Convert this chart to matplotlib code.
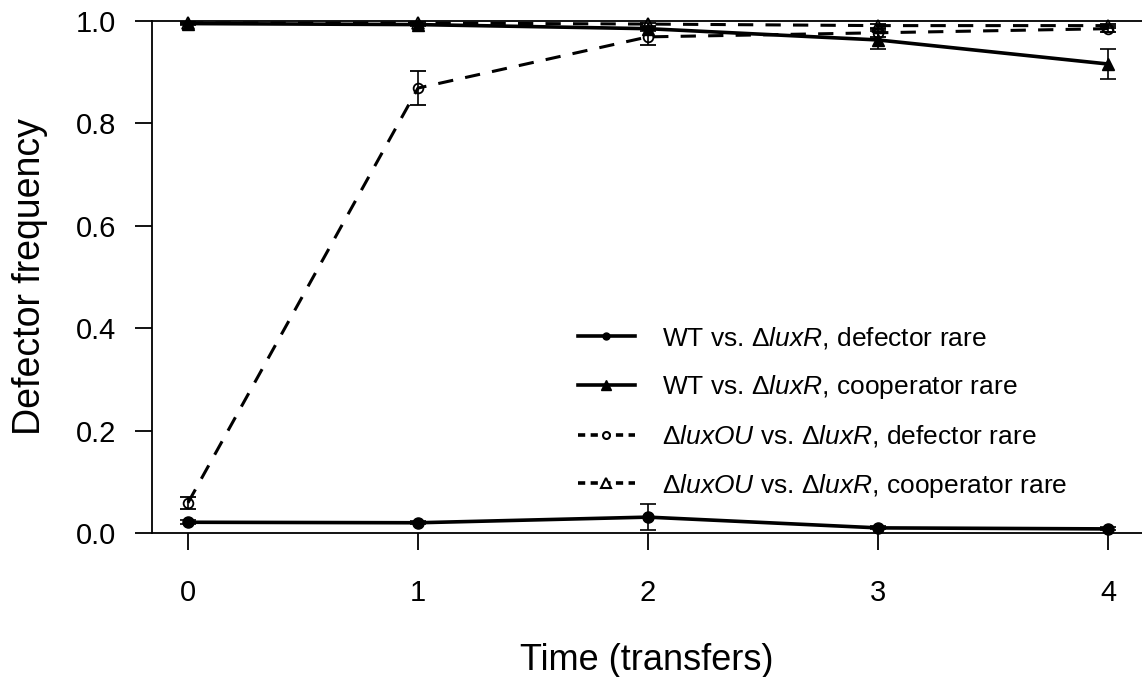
import numpy as np
import matplotlib
matplotlib.use('Agg')
import matplotlib.pyplot as plt
from matplotlib.lines import Line2D

plt.rcParams['font.family'] = ['Liberation Sans', 'DejaVu Sans']
plt.rcParams['mathtext.fontset'] = 'custom'
plt.rcParams['mathtext.rm'] = 'Liberation Sans'
plt.rcParams['mathtext.it'] = 'Liberation Sans:italic'

# transfers
time = [0, 1, 2, 3, 4]

# WT vs. luxR, defector rare
wt_def = [0.021, 0.020, 0.031, 0.010, 0.008]
wt_def_err = [0.004, 0.003, 0.026, 0.003, 0.003]
# WT vs. luxR, cooperator rare
wt_coop = [0.995, 0.993, 0.985, 0.963, 0.916]
wt_coop_err = [0.002, 0.002, 0.004, 0.017, 0.030]
# luxOU vs. luxR, defector rare
ou_def = [0.059, 0.869, 0.969, 0.977, 0.985]
ou_def_err = [0.012, 0.033, 0.015, 0.008, 0.006]
# luxOU vs. luxR, cooperator rare
ou_coop = [0.996, 0.996, 0.994, 0.991, 0.991]
ou_coop_err = [0.002, 0.002, 0.003, 0.004, 0.004]

labels = [r'WT vs. $\Delta\mathit{luxR}$, defector rare',
          r'WT vs. $\Delta\mathit{luxR}$, cooperator rare',
          r'$\Delta\mathit{luxOU}$ vs. $\Delta\mathit{luxR}$, defector rare',
          r'$\Delta\mathit{luxOU}$ vs. $\Delta\mathit{luxR}$, cooperator rare']

fig = plt.figure(figsize=(11.42, 6.77), dpi=100)
ax = fig.add_axes([152/1142, 144/677, 990/1142, 512/677])

dash = (0, (5, 4))
common = dict(color='black', ecolor='black', elinewidth=1.2, capsize=6,
              capthick=1.2, clip_on=False)

ax.errorbar(time, wt_def, yerr=wt_def_err, fmt='-o', lw=2.6, ms=8, **common)
ax.errorbar(time, wt_coop, yerr=wt_coop_err, fmt='-^', lw=2.6, ms=9, **common)
ax.errorbar(time, ou_def, yerr=ou_def_err, fmt='o', ms=7, mfc='none', mew=1.3, **common)
ax.plot(time, ou_def, color='black', lw=2.2, linestyle=dash, clip_on=False)
ax.errorbar(time, ou_coop, yerr=ou_coop_err, fmt='^', ms=8, mfc='none', mew=1.3, **common)
ax.plot(time, ou_coop, color='black', lw=2.2, linestyle=dash, clip_on=False)

ax.set_xlim(-36/230, 4 + 34/230)
ax.set_ylim(0, 1)
ax.set_xticks(time)
ax.set_yticks([0, 0.2, 0.4, 0.6, 0.8, 1.0])
ax.set_yticklabels(['0.0', '0.2', '0.4', '0.6', '0.8', '1.0'])
ax.spines['right'].set_visible(False)
for s in ['left', 'bottom', 'top']:
    ax.spines[s].set_linewidth(1.3)
ax.tick_params(axis='x', length=12, width=1.3, pad=21, labelsize=21)
ax.tick_params(axis='y', length=12, width=1.3, pad=14, labelsize=21)

ax.set_xlabel('Time (transfers)', fontsize=26, labelpad=26)
ax.set_ylabel('Defector frequency', fontsize=27, labelpad=20)

handles = [
    Line2D([], [], color='black', lw=2.6, marker='o', ms=5),
    Line2D([], [], color='black', lw=2.6, marker='^', ms=7),
    Line2D([], [], color='black', lw=2.6, linestyle=(0, (2, 1.5)), marker='o', ms=5, mfc='white', mew=1.5),
    Line2D([], [], color='black', lw=2.6, linestyle=(0, (2, 1.5)), marker='^', ms=7, mfc='white', mew=1.5),
]
ax.legend(handles, labels, loc='upper left', bbox_to_anchor=(578/1142, 1 - 325/677),
          bbox_transform=fig.transFigure, frameon=False, fontsize=19,
          handlelength=2.15, handletextpad=1.05, labelspacing=0.84, borderpad=0,
          borderaxespad=0)

fig.savefig('out.png', dpi=100)
